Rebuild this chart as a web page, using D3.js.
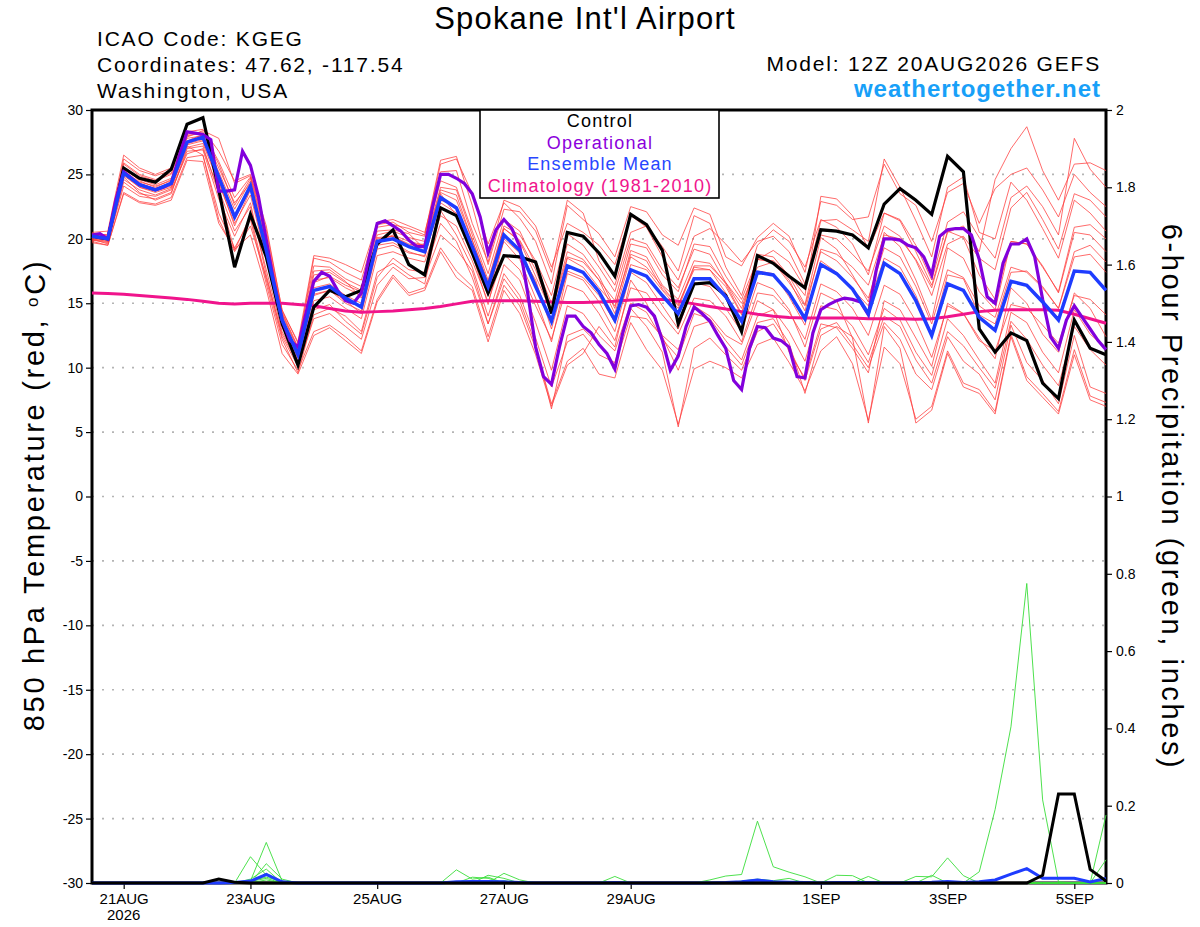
<!DOCTYPE html>
<html><head><meta charset="utf-8">
<script src="https://cdn.jsdelivr.net/npm/d3@7"></script>
<style>
html,body{margin:0;padding:0;background:#fff;}
svg{display:block;font-family:"Liberation Sans",Arial,Helvetica,sans-serif;}
</style></head>
<body>
<svg id="chart" width="1200" height="927"></svg>
<script>
// ---------------- DATA ----------------
const runStartUTC = Date.UTC(2026, 7, 20, 12); // 12Z 20AUG2026
const xTickDates = ["2026-08-21","2026-08-23","2026-08-25","2026-08-27","2026-08-29","2026-09-01","2026-09-03","2026-09-05"];
const xTickLabels = ["21AUG","23AUG","25AUG","27AUG","29AUG","1SEP","3SEP","5SEP"];
const yearLabel = "2026";
const tempTicks = [-30,-25,-20,-15,-10,-5,0,5,10,15,20,25,30];
const precipTicks = [0,0.2,0.4,0.6,0.8,1,1.2,1.4,1.6,1.8,2];

// 850 hPa temperature, 6-hourly (65 steps)
const controlTemp = [20.2,20.0,25.5,24.7,24.4,25.4,28.9,29.4,23.8,17.8,21.9,18.6,13.4,10.2,14.7,16.0,15.5,16.0,19.6,20.7,18.0,17.2,22.4,21.8,18.9,15.8,18.7,18.6,18.2,14.2,20.5,20.2,18.9,17.1,21.9,21.1,19.1,13.4,16.5,16.6,15.6,12.8,18.7,18.1,17.1,16.2,20.7,20.6,20.3,19.3,22.7,23.9,23.0,21.9,26.4,25.2,13.0,11.2,12.7,12.1,8.8,7.6,13.7,11.5,11.0];
const meanTemp = [20.2,20.0,25.1,24.2,23.8,24.3,27.5,27.9,24.8,21.7,24.1,19.1,13.7,11.0,16.0,16.3,15.4,14.7,19.8,20.0,19.4,19.0,23.2,22.4,19.4,16.3,20.3,19.1,16.3,13.6,17.9,17.4,15.9,13.7,17.6,17.1,15.6,14.2,16.9,16.9,15.5,13.6,17.4,17.2,15.8,13.8,18.0,17.3,16.1,14.2,18.1,17.3,15.2,12.5,16.5,16.0,13.9,12.9,16.7,16.4,15.1,13.7,17.5,17.4,16.0];
const climoTemp = [15.8,15.75,15.7,15.6,15.5,15.4,15.3,15.15,15.0,14.95,15.0,15.0,15.0,14.9,14.8,14.6,14.4,14.3,14.35,14.4,14.5,14.6,14.75,14.95,15.15,15.2,15.2,15.2,15.15,15.1,15.05,15.05,15.1,15.15,15.25,15.3,15.3,15.15,14.95,14.75,14.55,14.35,14.15,14.0,13.9,13.85,13.85,13.85,13.85,13.8,13.8,13.8,13.75,13.8,13.95,14.15,14.35,14.45,14.5,14.5,14.5,14.45,14.15,13.8,13.45];
// operational run, 3-hourly (129 steps)
const operTemp = [20.3,20.4,20.0,23.0,25.2,24.7,24.2,24.0,23.8,24.0,24.3,26.4,28.3,28.2,28.1,27.7,23.7,23.7,23.8,26.8,25.7,23.3,19.9,16.5,13.7,12.1,11.6,14.2,16.7,17.4,17.1,16.0,15.2,
15.0,15.8,18.6,21.2,21.4,21.0,20.6,19.9,19.4,19.4,22.5,25.0,25.0,24.7,24.3,23.5,21.7,18.9,20.7,21.5,20.8,19.4,15.8,11.6,9.3,8.7,11.6,14.0,14.0,13.2,12.7,11.8,
11.1,9.9,12.7,14.8,14.9,14.7,14.0,12.1,9.8,10.9,13.2,14.7,14.2,13.6,12.5,11.5,9.0,8.3,11.5,13.2,13.1,12.3,12.1,11.6,9.3,9.2,12.7,14.5,14.9,15.2,15.4,15.3,
15.1,14.1,17.6,20.0,20.0,19.9,19.5,19.3,18.6,17.2,20.2,20.7,20.8,20.8,20.3,18.4,15.5,15.0,18.1,19.6,19.6,20.0,18.6,15.3,12.4,11.5,13.7,14.8,13.9,13.0,12.1,11.4];

// ensemble members (6-hourly)
const member01 = [20.4,20.3,26.2,25.3,24.9,25.3,28.1,28.3,26.0,23.2,24.8,20.3,14.3,11.6,18.5,18.2, 17.4,16.8,21.1,21.3,20.5,20.2,25.8,26.2,23.5,19.6,22.8,21.6,19.8,16.5,22.6,21.5, 20.4,18.6,22.5,22.1,20.3,19.5,22.4,21.9,18.6,17.9,20.1,21.2,20.2,17.4,22.9,22.6, 21.5,21.7,25.8,23.5,22.6,19.8,23.6,24.3,21.2,23.9,25.0,25.5,23.8,21.7,25.0,23.6,22.5];
const member02 = [19.8,19.5,23.6,22.9,22.7,23.2,26.3,26.5,22.0,19.3,21.5,16.5,11.8,9.8,12.8,13.3, 12.4,11.3,15.3,17.2,15.8,16.2,19.3,17.5,16.3,12.4,16.4,14.8,11.5,7.2,10.5,11.5, 9.5,9.2,13.5,11.4,9.8,5.6,9.9,10.5,10.0,9.2,11.8,12.3,10.4,8.2,11.3,12.4, 10.3,5.9,11.6,10.3,6.0,7.0,11.3,8.8,8.3,6.6,12.6,9.3,8.0,6.6,11.4,7.8,7.3];
const member03 = [20.1,20.0,25.6,24.5,24.0,24.6,27.8,28.0,25.2,22.3,24.5,19.5,13.9,11.2,16.8,17.0, 16.2,15.6,20.3,20.6,20.1,19.8,24.5,24.0,20.6,17.3,21.5,20.6,18.0,15.0,19.6,18.8, 17.1,14.6,19.1,18.6,16.4,15.3,18.3,18.1,16.5,14.2,18.8,18.6,17.1,14.9,20.1,19.2, 17.2,15.1,20.5,19.4,16.8,13.7,19.3,18.5,15.9,14.5,19.8,19.6,17.8,15.9,20.9,21.1,20.0];
const member04 = [20.0,19.8,24.6,23.8,23.4,23.9,27.1,27.4,24.3,21.2,23.4,18.4,13.2,10.5,15.2,15.5, 14.6,13.8,18.7,19.0,18.5,18.2,21.8,21.0,18.3,15.1,18.8,17.6,14.8,12.2,16.4,15.9, 14.2,12.1,16.2,15.8,14.1,12.6,15.4,15.2,14.0,12.0,15.8,15.6,14.3,12.2,16.5,15.9, 14.6,12.5,16.4,15.7,13.6,10.8,14.8,14.2,12.1,11.3,14.9,14.6,13.3,11.9,15.6,15.3,14.1];
const member05 = [20.3,20.2,25.4,24.6,24.2,24.7,27.9,28.4,27.8,24.3,24.9,20.7,14.5,11.9,17.9,17.8, 16.9,16.3,20.9,21.1,20.8,20.3,26.1,26.4,22.6,18.0,22.3,22.1,20.6,17.4,23.0,22.0, 18.3,16.4,20.5,21.0,19.4,17.5,21.8,21.2,17.8,15.6,19.5,20.7,19.8,17.8,21.5,20.9, 19.6,17.2,22.0,21.5,19.5,16.8,21.3,22.1,20.1,18.5,23.2,24.1,22.5,20.3,27.8,25.4,24.0];
const member06 = [19.9,19.7,24.1,23.3,23.1,23.6,26.8,26.9,23.1,20.2,22.8,17.2,12.4,10.1,13.8,14.2, 13.2,12.2,16.4,17.8,16.9,17.0,20.3,19.2,17.5,13.4,17.3,15.6,12.3,8.5,12.0,12.6, 11.0,10.4,14.6,13.2,11.2,5.4,11.5,12.3,11.0,9.8,12.8,13.4,11.5,9.0,13.0,13.5, 11.8,10.0,13.5,12.2,9.5,8.3,12.4,10.5,9.5,7.5,13.3,10.4,9.0,7.2,12.5,8.5,8.0];
const member07 = [20.5,20.6,26.5,25.5,25.0,25.5,28.3,28.5,26.8,24.5,25.0,21.0,14.4,12.0,18.7,18.5, 18.0,17.4,21.3,21.5,21.0,20.5,25.2,25.3,21.2,18.2,23.0,22.5,21.0,17.8,21.2,20.5, 19.5,18.0,21.8,20.9,18.6,16.8,20.2,20.8,19.6,18.2,19.8,20.2,19.0,16.5,20.3,20.0, 18.8,17.5,21.0,20.2,18.3,15.6,19.6,20.2,18.5,17.6,22.4,23.6,21.5,19.2,23.5,23.0,21.7];
const member08 = [20.0,19.6,24.8,23.6,23.0,23.5,27.0,27.2,23.5,19.1,21.8,16.8,12.2,9.6,14.1,14.6, 14.0,12.8,17.4,18.1,17.2,16.5,22.2,20.3,17.8,14.0,18.0,16.8,13.5,9.8,14.8,14.2, 12.5,11.3,15.0,14.3,12.2,10.8,14.2,13.8,12.1,10.6,14.0,14.5,12.8,10.5,14.8,14.5, 13.2,11.0,14.6,13.7,11.2,9.4,13.8,12.5,10.6,8.8,14.3,13.5,11.2,9.6,14.5,12.6,11.5];
const member09 = [20.2,20.1,25.0,24.0,23.7,24.1,27.4,27.7,24.6,21.5,23.9,18.9,13.5,10.8,15.7,16.0, 15.0,14.4,19.5,19.7,19.0,18.6,23.0,22.5,19.4,16.0,19.8,18.4,15.4,12.0,17.3,16.8, 15.1,12.8,17.4,16.6,14.8,13.0,16.6,16.3,14.6,12.8,16.6,16.1,14.5,11.6,15.8,15.2, 12.3,5.7,13.2,11.5,5.7,6.7,11.1,8.5,8.0,6.4,12.4,9.0,7.7,6.4,11.0,7.5,7.0];
const member10 = [20.3,20.1,25.3,24.4,24.1,24.5,27.6,28.1,25.5,22.8,24.3,19.8,14.1,11.4,17.2,17.4, 16.6,16.0,19.8,20.3,19.8,19.5,23.8,23.4,19.9,16.5,20.8,19.9,17.6,14.3,19.0,18.4, 16.8,15.2,19.6,19.3,17.2,15.9,19.6,19.4,17.1,15.3,18.4,19.1,18.2,16.2,21.4,21.5, 20.7,19.8,26.2,24.0,21.4,18.6,24.0,24.8,20.5,20.0,24.4,23.0,20.8,18.5,23.0,22.0,20.6];
const member11 = [19.7,19.5,23.5,22.8,22.6,23.0,26.1,26.0,21.2,19.2,20.3,16.1,11.1,9.5,12.5,13.1, 12.1,11.1,15.1,17.0,15.6,16.0,19.0,17.0,16.0,12.0,16.0,14.2,11.0,7.0,10.2,11.1, 13.2,11.6,16.8,15.0,12.5,11.4,14.8,14.0,12.5,11.8,15.2,14.5,11.2,9.2,13.4,13.1, 11.5,9.6,15.2,14.5,12.3,10.1,15.0,14.2,12.3,10.7,16.2,15.0,12.6,11.2,15.8,14.6,12.4];
const member12 = [20.2,20.0,25.8,24.9,24.5,25.0,27.2,26.5,21.5,19.0,21.0,17.0,12.6,10.3,16.6,17.1, 16.4,15.9,20.6,20.7,20.4,19.2,23.5,21.8,18.8,14.9,20.0,18.9,16.8,13.0,17.5,17.0, 15.6,13.5,18.0,17.6,16.0,14.6,17.8,17.6,15.8,13.5,17.5,17.3,15.5,13.3,18.3,17.4, 16.1,14.8,18.5,17.8,15.6,12.6,17.2,16.9,14.1,13.4,17.4,17.5,16.3,14.6,19.0,19.5,18.2];
const member13 = [20.4,20.3,25.9,25.0,24.6,25.1,28.0,28.2,25.8,22.6,24.7,20.0,14.2,11.5,17.5,17.6, 16.7,15.4,20.1,20.2,19.5,19.6,24.0,23.8,20.3,16.8,21.0,20.3,18.3,15.6,20.4,19.5, 17.8,15.9,20.0,19.6,17.6,16.2,19.2,18.8,16.6,15.0,17.8,18.2,16.8,14.4,19.2,18.8, 17.8,16.4,20.3,20.0,18.4,16.2,20.5,21.0,19.0,24.6,27.0,28.7,25.3,23.0,25.8,25.9,25.3];
const member14 = [19.9,19.8,24.4,23.5,23.3,23.8,26.6,27.0,23.8,20.6,22.5,17.6,12.8,10.4,14.5,14.9, 13.6,12.6,17.0,18.5,17.6,17.4,21.2,19.8,17.0,13.4,16.9,15.2,11.8,6.8,12.5,13.0, 11.8,10.2,14.0,13.8,12.4,9.8,13.2,13.6,11.6,10.2,13.5,13.8,11.9,8.0,12.5,13.2, 12.4,10.4,14.0,13.2,10.6,8.8,12.8,11.7,10.0,8.4,13.6,12.2,10.2,8.6,13.2,11.4,10.2];
const member15 = [20.1,19.9,25.2,24.3,23.9,24.4,27.5,27.8,24.9,21.9,24.0,19.0,13.6,10.9,16.2,16.5, 15.6,15.0,20.0,20.2,19.6,19.3,23.6,23.0,19.9,16.6,20.8,19.8,17.1,14.3,18.6,18.2, 16.8,14.2,18.6,17.8,16.3,14.8,17.9,17.9,16.6,14.6,18.4,18.2,16.6,14.8,19.0,18.3, 17.0,15.4,19.3,18.6,16.3,13.4,17.6,17.0,14.8,13.9,17.8,17.4,16.2,14.6,18.6,18.8,17.4];
const member16 = [20.0,19.9,24.9,24.0,23.6,24.0,27.3,27.6,24.5,21.0,23.8,18.6,13.3,10.7,15.6,16.0, 15.2,14.2,19.2,19.5,18.9,18.7,22.8,22.0,19.0,15.6,20.2,19.2,16.6,13.5,18.5,17.8, 16.2,14.8,18.8,18.3,16.1,14.9,17.6,17.6,16.3,14.1,18.4,18.3,17.2,15.6,23.3,23.1, 21.8,19.2,22.0,21.4,19.0,16.4,20.6,20.1,17.2,15.3,19.8,19.6,17.9,15.8,20.5,20.3,19.0];

// 6-hour precipitation (inches), 6-hourly (65 steps)
const controlPrecip = [0,0,0,0,0,0,0,0,0.01,0.002, 0,0,0,0,0,0,0,0,0,0, 0,0,0,0,0,0,0,0,0,0, 0,0,0,0,0,0,0,0,0,0, 0,0,0,0,0,0,0,0,0,0, 0,0,0,0,0,0,0,0,0,0, 0.02,0.23,0.23,0.035,0.005];
const meanPrecip = [0,0,0,0,0,0,0,0,0,0.001, 0.005,0.022,0.003,0,0,0,0,0,0,0, 0,0,0,0.003,0.004,0.004,0.003,0.001,0,0, 0,0,0,0.001,0,0,0,0,0,0, 0.001,0.003,0.008,0.003,0.002,0.001,0,0.001,0.001,0.001, 0,0,0.001,0.002,0.004,0.001,0.003,0.008,0.023,0.037, 0.012,0.012,0.012,0.003,0.012];
const precipM1 = [0,0,0,0,0,0,0,0,0,0, 0.068,0.02,0,0,0,0,0,0,0,0, 0,0,0,0.034,0.01,0.015,0,0,0,0, 0,0,0,0,0,0,0,0,0,0, 0,0,0,0,0,0,0,0,0,0, 0,0,0.017,0.016,0.065,0.019,0,0,0,0, 0,0,0,0,0];
const precipM2 = [0,0,0,0,0,0,0,0,0,0, 0.005,0.105,0.005,0,0,0,0,0,0,0, 0,0,0,0,0,0.02,0.012,0,0,0, 0,0,0,0,0,0,0,0,0,0, 0,0,0,0,0,0,0,0,0,0, 0,0,0,0,0,0,0.029,0.19,0.404,0.775, 0.215,0.003,0,0,0];
const precipM3 = [0,0,0,0,0,0,0,0,0,0, 0,0.05,0.01,0,0,0,0,0,0,0, 0,0,0,0,0,0,0.025,0.008,0,0, 0,0,0,0,0,0,0,0,0,0, 0,0,0,0,0,0,0,0,0,0, 0,0,0,0,0,0,0,0,0,0, 0,0,0,0,0.176];
const precipM4 = [0,0,0,0,0,0,0,0,0,0, 0.01,0.036,0,0,0,0,0,0,0,0, 0,0,0,0,0,0,0,0,0,0, 0,0,0,0,0,0,0,0,0,0.008, 0.018,0.022,0.16,0.042,0.028,0.016,0,0,0,0, 0,0,0,0,0,0,0,0,0,0, 0,0,0,0,0];
const precipM5 = [0,0,0,0,0,0,0,0,0,0, 0,0.025,0,0,0,0,0,0,0,0, 0,0,0,0,0.015,0.012,0,0,0,0, 0,0,0,0,0,0,0,0,0,0, 0,0,0,0,0,0,0,0.02,0.019,0, 0,0,0,0,0,0,0,0,0,0, 0,0,0,0,0.06];
const precipM6 = [0,0,0,0,0,0,0,0,0,0, 0.006,0.015,0.004,0,0,0,0,0,0,0, 0,0,0,0,0,0,0,0,0,0, 0,0,0,0.017,0,0,0,0,0,0, 0,0,0,0,0,0,0,0,0,0.017, 0,0,0,0,0,0,0,0,0,0, 0,0,0,0,0];
const precipM7 = [0,0,0,0,0,0,0,0,0,0, 0,0.008,0,0,0,0,0,0,0,0, 0,0,0,0,0,0,0,0,0,0, 0,0,0,0,0,0,0,0,0,0, 0,0.005,0.01,0.006,0.012,0,0,0,0,0, 0,0,0,0.003,0,0,0,0,0,0, 0,0,0,0,0];
const precipM8 = [0,0,0,0,0,0,0,0,0,0, 0.004,0.012,0,0,0,0,0,0,0,0, 0,0,0,0,0,0,0.006,0,0,0, 0,0,0,0,0,0,0,0,0,0, 0,0,0,0,0,0,0,0,0,0, 0,0,0,0.02,0,0,0,0,0,0, 0,0,0,0,0];

const tempMembers = [member01,member02,member03,member04,member05,member06,member07,member08,member09,member10,member11,member12,member13,member14,member15,member16];
const precipMembers = [precipM1,precipM2,precipM3,precipM4,precipM5,precipM6,precipM7,precipM8];

const legendItems = [
  {label:"Control", color:"#000000"},
  {label:"Operational", color:"#8c00dc"},
  {label:"Ensemble Mean", color:"#2846ff"},
  {label:"Climatology (1981-2010)", color:"#f0148c"}
];

// ---------------- CHART ----------------
const svg = d3.select("#chart");
const L = 92, R = 1106, T = 110, B = 883;
const H6 = 6*3600*1000, H3 = 3*3600*1000;
const x = d3.scaleUtc().domain([new Date(runStartUTC), new Date(runStartUTC + 64*H6)]).range([L, R]);
const yT = d3.scaleLinear().domain([-30, 30]).range([B, T]);
const yP = d3.scaleLinear().domain([0, 2]).range([B, T]);

const t6 = i => new Date(runStartUTC + i*H6);
const t3 = j => new Date(runStartUTC + j*H3);

// grid
svg.append("g").selectAll("line").data(tempTicks.filter(v => v > -30 && v < 30)).join("line")
  .attr("x1", L).attr("x2", R).attr("y1", d => yT(d)).attr("y2", d => yT(d))
  .attr("stroke", "#b4b4b4").attr("stroke-width", 1.6).attr("stroke-dasharray", "2 8");

const lineT6 = d3.line().x((d,i) => x(t6(i))).y(d => yT(d));
const lineT3 = d3.line().x((d,i) => x(t3(i))).y(d => yT(d));
const lineP6 = d3.line().x((d,i) => x(t6(i))).y(d => yP(d));

const plot = svg.append("g");
plot.selectAll("path.mem").data(tempMembers).join("path").attr("class","mem")
  .attr("d", lineT6).attr("fill","none").attr("stroke","#ff3c3c").attr("stroke-width",0.9).attr("stroke-opacity",0.85);

plot.append("path").attr("d", lineT6(climoTemp)).attr("fill","none").attr("stroke","#f0148c").attr("stroke-width",3);
plot.append("path").attr("d", lineT6(controlTemp)).attr("fill","none").attr("stroke","#000").attr("stroke-width",3.2).attr("stroke-linejoin","miter");
plot.append("path").attr("d", lineT3(operTemp)).attr("fill","none").attr("stroke","#8200dc").attr("stroke-width",3.2);
plot.append("path").attr("d", lineT6(meanTemp)).attr("fill","none").attr("stroke","#1e3cff").attr("stroke-width",3.5);

// axes
const fmtT = d => String(d);
const fmtP = d => String(Math.round(d*10)/10);
const axL = svg.append("g").attr("transform", `translate(${L},0)`)
  .call(d3.axisLeft(yT).tickValues(tempTicks).tickSize(6).tickPadding(3).tickFormat(fmtT));
const axR = svg.append("g").attr("transform", `translate(${R},0)`)
  .call(d3.axisRight(yP).tickValues(precipTicks).tickSize(6).tickPadding(4).tickFormat(fmtP));
const xDates = xTickDates.map(s => new Date(s + "T00:00:00Z"));
const axB = svg.append("g").attr("transform", `translate(0,${B})`)
  .call(d3.axisBottom(x).tickValues(xDates).tickSize(6).tickPadding(4).tickFormat((d,i) => xTickLabels[i]));
[axL, axR, axB].forEach(a => {
  a.select(".domain").remove();
  a.selectAll("text").attr("font-size", 14).attr("fill", "#000").attr("font-family", '"Liberation Sans",Arial,sans-serif');
  a.selectAll("line").attr("stroke", "#000").attr("stroke-width", 1.2);
});
axB.selectAll("text").attr("font-size", 15);
svg.append("text").attr("x", x(xDates[0])).attr("y", 920).attr("text-anchor","middle")
  .attr("font-size", 15).text(yearLabel);

// frame
svg.append("rect").attr("x", L).attr("y", T).attr("width", R-L).attr("height", B-T)
  .attr("fill","none").attr("stroke","#000").attr("stroke-width",3);

// precipitation
plot.raise();
const pg = svg.append("g");
pg.selectAll("path.pm").data(precipMembers).join("path").attr("class","pm")
  .attr("d", lineP6).attr("fill","none").attr("stroke","#3ade3a").attr("stroke-width",0.9);
pg.append("path").attr("d", lineP6(meanPrecip)).attr("fill","none").attr("stroke","#1e3cff").attr("stroke-width",3);
pg.append("path").attr("d", lineP6(controlPrecip)).attr("fill","none").attr("stroke","#000").attr("stroke-width",3);

// legend
const lg = svg.append("g");
lg.append("rect").attr("x", 480).attr("y", 110).attr("width", 239).attr("height", 88)
  .attr("fill","#fff").attr("stroke","#000").attr("stroke-width",1.6);
lg.selectAll("text").data(legendItems).join("text")
  .attr("x", 600).attr("y", (d,i) => 127 + i*21.5).attr("text-anchor","middle")
  .attr("font-size", 18).attr("letter-spacing", 1.2).attr("fill", d => d.color).text(d => d.label);

// titles
svg.append("text").attr("x", 585).attr("y", 29).attr("text-anchor","middle")
  .attr("font-size", 31).attr("letter-spacing", 1.2).text("Spokane Int'l Airport");
const hdr = [["ICAO Code: KGEG",46],["Coordinates: 47.62, -117.54",72],["Washington, USA",98]];
svg.append("g").selectAll("text").data(hdr).join("text")
  .attr("x", 97).attr("y", d => d[1]).attr("font-size", 21).attr("letter-spacing", 1.8).text(d => d[0]);
svg.append("text").attr("x", 1101).attr("y", 71).attr("text-anchor","end")
  .attr("font-size", 21).attr("letter-spacing", 1.8).text("Model: 12Z 20AUG2026 GEFS");
svg.append("text").attr("x", 1101).attr("y", 97).attr("text-anchor","end")
  .attr("font-size", 24).attr("font-weight","bold").attr("letter-spacing", 1.0).attr("fill","#18a0f8").text("weathertogether.net");

const lt = svg.append("text").attr("transform","translate(34,495) rotate(-90)").attr("text-anchor","middle")
  .attr("dy","0.35em").attr("font-size", 29).attr("letter-spacing", 2.7);
lt.append("tspan").text("850 hPa Temperature (red, ");
lt.append("tspan").attr("font-size", 17).attr("dy", "-0.35em").text("o");
lt.append("tspan").attr("dy", "0.22em").text("C)");
svg.append("text").attr("transform","translate(1172,497) rotate(90)").attr("text-anchor","middle")
  .attr("dy","0.35em").attr("font-size", 29).attr("letter-spacing", 2.6).text("6-hour Precipitation (green, inches)");
</script>
</body></html>
